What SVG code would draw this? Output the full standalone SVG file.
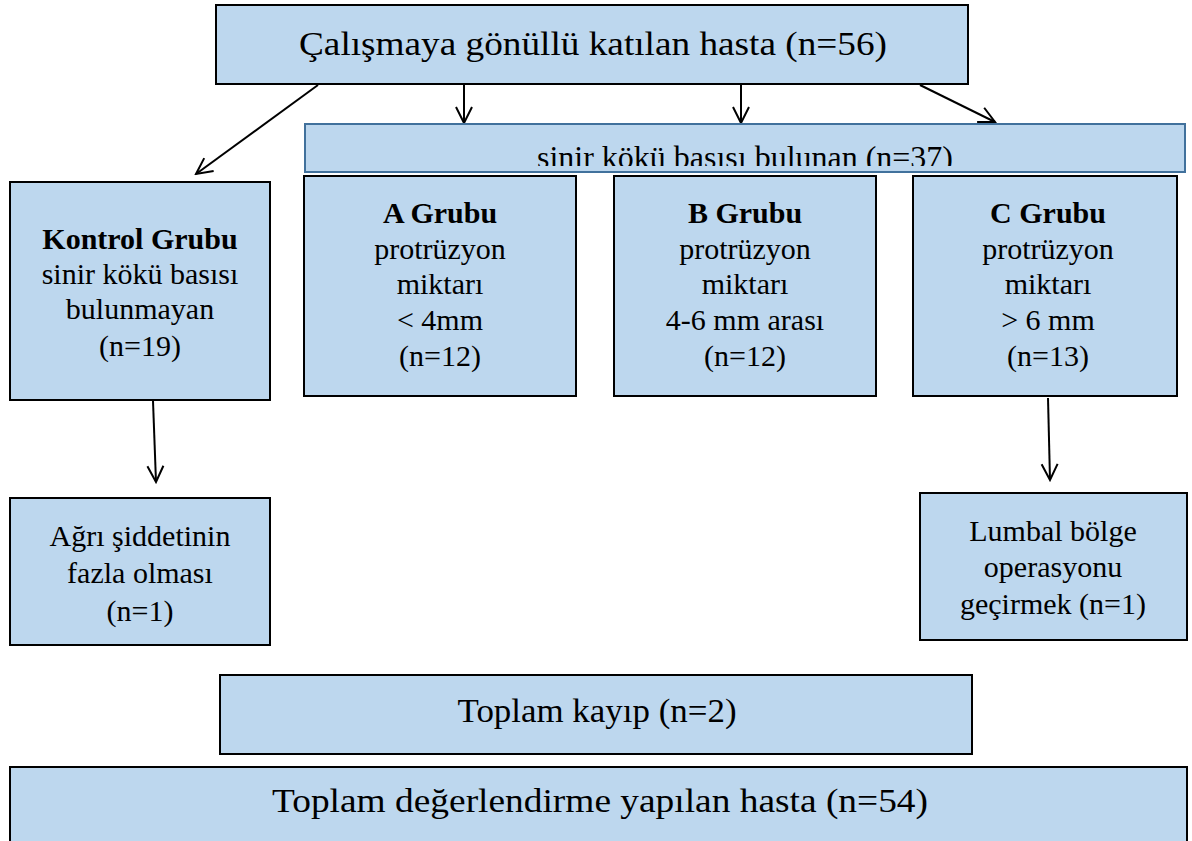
<svg xmlns="http://www.w3.org/2000/svg" width="1192" height="841" viewBox="0 0 1192 841">
<style>
.box{fill:#bdd7ee;stroke:#000;stroke-width:2}
.t{font-family:"Liberation Serif","Times New Roman",serif;fill:#000;text-anchor:middle}
.m{font-size:30px}
.b{font-weight:bold}
.big{font-size:34px}
.con{stroke:#000;stroke-width:2;fill:none}
</style>
<defs>
<marker id="ah" viewBox="0 0 20 20" refX="18" refY="10" markerWidth="20" markerHeight="20" markerUnits="userSpaceOnUse" orient="auto">
<polyline points="2,2 18,10 2,18" fill="none" stroke="#000" stroke-width="2"/>
</marker>
<clipPath id="sc"><rect x="305" y="124" width="880" height="42"/></clipPath>
</defs>
<rect width="1192" height="841" fill="#fff"/>
<g id="connectors">
<line class="con" x1="318" y1="85" x2="196" y2="174" marker-end="url(#ah)"/>
<line class="con" x1="464" y1="85" x2="464" y2="123" marker-end="url(#ah)"/>
<line class="con" x1="741" y1="85" x2="741" y2="123" marker-end="url(#ah)"/>
<line class="con" x1="920" y1="85" x2="995" y2="122" marker-end="url(#ah)"/>
<line class="con" x1="153" y1="401" x2="156" y2="482" marker-end="url(#ah)"/>
<line class="con" x1="1048" y1="398" x2="1050" y2="480" marker-end="url(#ah)"/>
</g>
<g id="top">
<rect class="box" x="216" y="5" width="752" height="79"/>
<text class="t big" x="593" y="55" textLength="588" lengthAdjust="spacingAndGlyphs">Çalışmaya gönüllü katılan hasta (n=56)</text>
</g>
<g id="sinir">
<rect x="305" y="124" width="880" height="48" fill="#bdd7ee" stroke="#41719c" stroke-width="2"/>
<text class="t" font-size="32" x="745" y="168" textLength="416" lengthAdjust="spacingAndGlyphs" clip-path="url(#sc)">sinir kökü basısı bulunan (n=37)</text>
</g>
<g id="kontrol">
<rect class="box" x="10" y="182" width="260" height="218"/>
<text class="t m b" x="140" y="249">Kontrol Grubu</text>
<text class="t m" x="140" y="284">sinir kökü basısı</text>
<text class="t m" x="140" y="319">bulunmayan</text>
<text class="t m" x="140" y="356">(n=19)</text>
</g>
<g id="a">
<rect class="box" x="304" y="176" width="272" height="220"/>
<text class="t m b" x="440" y="223">A Grubu</text>
<text class="t m" x="440" y="259">protrüzyon</text>
<text class="t m" x="440" y="294">miktarı</text>
<text class="t m" x="440" y="330">&lt; 4mm</text>
<text class="t m" x="440" y="366">(n=12)</text>
</g>
<g id="b">
<rect class="box" x="614" y="176" width="262" height="220"/>
<text class="t m b" x="745" y="223">B Grubu</text>
<text class="t m" x="745" y="259">protrüzyon</text>
<text class="t m" x="745" y="294">miktarı</text>
<text class="t m" x="745" y="330">4-6 mm arası</text>
<text class="t m" x="745" y="366">(n=12)</text>
</g>
<g id="c">
<rect class="box" x="913" y="176" width="264" height="220"/>
<text class="t m b" x="1048" y="223">C Grubu</text>
<text class="t m" x="1048" y="259">protrüzyon</text>
<text class="t m" x="1048" y="294">miktarı</text>
<text class="t m" x="1048" y="330">&gt; 6 mm</text>
<text class="t m" x="1048" y="366">(n=13)</text>
</g>
<g id="agri">
<rect class="box" x="10" y="498" width="260" height="147"/>
<text class="t m" x="140" y="546">Ağrı şiddetinin</text>
<text class="t m" x="140" y="583">fazla olması</text>
<text class="t m" x="140" y="621">(n=1)</text>
</g>
<g id="lumbal">
<rect class="box" x="920" y="493" width="267" height="147"/>
<text class="t m" x="1053" y="541">Lumbal bölge</text>
<text class="t m" x="1053" y="577">operasyonu</text>
<text class="t m" x="1053" y="614">geçirmek (n=1)</text>
</g>
<g id="kayip">
<rect class="box" x="220" y="675" width="752" height="79"/>
<text class="t big" x="597" y="722" textLength="279" lengthAdjust="spacingAndGlyphs">Toplam kayıp (n=2)</text>
</g>
<g id="toplam">
<rect class="box" x="10" y="767" width="1177" height="80"/>
<text class="t big" x="600" y="812" textLength="656" lengthAdjust="spacingAndGlyphs">Toplam değerlendirme yapılan hasta (n=54)</text>
</g>
</svg>
